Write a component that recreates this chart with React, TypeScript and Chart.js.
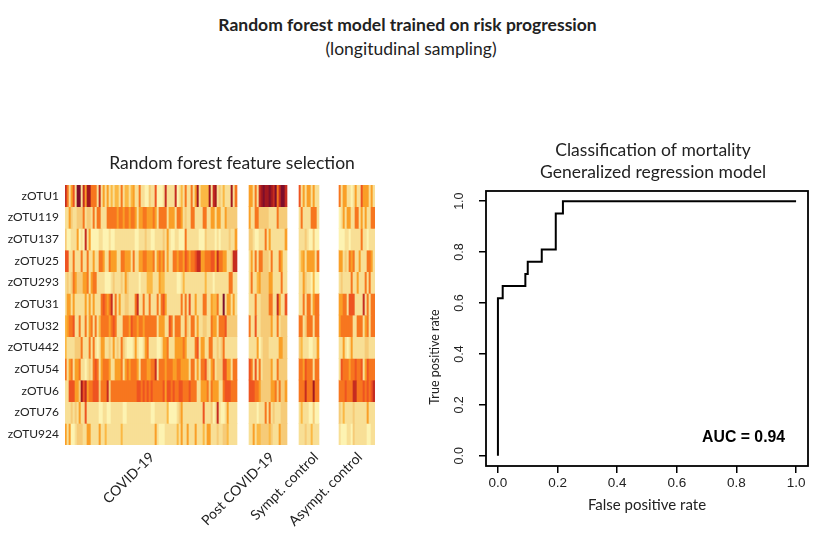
import React, { useEffect, useRef } from "react";
import { Chart, registerables } from "chart.js";

Chart.register(...registerables);

const mainTitle = "Random forest model trained on risk progression";
const subTitle = "(longitudinal sampling)";
const heatTitle = "Random forest feature selection";
const rocTitle = ["Classification of mortality", "Generalized regression model"];
const rocAuc = "AUC = 0.94";

const rowNames = ["zOTU1", "zOTU119", "zOTU137", "zOTU25", "zOTU293", "zOTU31", "zOTU32", "zOTU442", "zOTU54", "zOTU6", "zOTU76", "zOTU924"];
const groupNames = ["COVID-19", "Post COVID-19", "Sympt. control", "Asympt. control"];
const heatPalette = ["#FDF3B2", "#F8DF96", "#F6CB78", "#FBB844", "#FA9F27", "#F7761F", "#EE5421", "#C62C20", "#A3191F", "#7D0E2C"];

const covidLevels = [
  [7,5,1,4,6,1,9,9,1,7, 4,8,8,5,5,5,1,7,1,4, 1,4,1,3,1,3,3,1,5,1, 3,3,1,3,4,1,1,5,1,1, 0,0,2,1,1,6,0,0,0,1, 7,1,1,1,1,7,0,1,3,1, 5,1,1,5,1,4,8,1,3,3, 3,3,8,1,7,8,1,2,1,3, 1,1,1,8,1,5],
  [1,1,4,2,1,1,2,2,2,5, 1,2,2,1,5,1,5,5,1,1, 1,5,5,5,5,5,4,5,5,4, 5,5,4,5,5,4,1,4,4,5, 5,4,4,4,5,4,1,5,5,5, 5,1,4,4,4,1,5,5,4,1, 2,1,1,5,5,1,1,1,1,5, 5,1,1,4,4,1,4,4,1,1, 4,2,2,2,2,2],
  [2,0,0,1,1,1,4,0,1,0, 7,1,4,0,0,0,0,1,1,0, 0,0,1,0,0,1,1,1,1,1, 1,1,1,1,1,0,0,1,1,1, 2,1,1,0,0,1,1,1,1,2, 1,4,1,0,0,1,1,0,0,0, 5,1,1,1,1,1,1,0,0,0, 2,1,1,1,1,0,1,0,1,1, 1,1,2,1,1,4],
  [6,6,1,1,5,1,1,1,5,1, 1,5,1,1,4,1,1,5,5,4, 1,1,5,4,4,4,1,1,5,5, 4,4,4,1,5,1,1,4,4,5, 5,4,4,4,5,1,4,5,4,5, 1,4,1,1,5,5,4,5,5,4, 6,5,4,5,5,6,7,7,4,4, 5,5,5,6,6,4,7,5,5,4, 4,1,1,2,7,7],
  [1,2,1,2,5,4,2,2,2,4, 4,5,1,4,5,5,1,1,1,1, 0,0,0,1,2,1,1,1,2,1, 4,2,1,1,1,1,1,0,1,1, 1,3,3,3,1,1,1,4,3,3, 1,1,1,1,1,1,0,0,1,3, 1,1,1,1,1,1,1,1,1,1, 3,1,1,1,0,1,1,1,1,1, 1,1,5,5,1,1],
  [1,4,4,1,4,1,1,1,1,1, 4,1,4,1,4,1,1,1,5,6, 5,4,5,7,1,5,1,4,1,1, 2,2,1,1,1,5,7,1,1,5, 1,1,5,1,1,1,5,1,5,6, 4,1,1,1,1,1,1,1,5,1, 5,1,6,1,1,4,1,1,1,5, 5,1,1,4,3,3,5,1,1,9, 1,4,4,1,4,1],
  [3,4,5,5,6,1,1,5,1,1, 5,1,4,5,1,5,1,3,5,5, 5,5,4,5,6,5,1,1,1,5, 5,5,4,6,5,5,4,5,5,4, 5,5,5,5,5,5,1,4,4,4, 1,1,6,5,1,5,5,5,1,1, 5,2,1,5,5,1,4,1,1,2, 2,1,1,5,4,4,1,5,5,5, 6,2,2,2,2,2],
  [3,1,1,1,1,2,2,2,5,1, 1,1,5,1,5,1,0,1,4,4, 1,1,2,1,4,1,2,1,5,2, 1,0,0,0,1,4,1,0,0,1, 4,5,1,1,1,1,0,0,1,4, 4,5,1,1,1,4,4,4,4,5, 4,1,1,1,1,5,6,1,4,4, 1,1,5,5,1,1,2,1,2,5, 1,1,1,1,1,1],
  [5,1,4,5,1,4,4,5,1,1, 0,1,2,1,5,6,5,1,4,5, 5,5,4,1,1,4,4,4,5,1, 4,5,4,5,5,5,4,1,5,5, 5,4,4,5,5,7,1,5,5,5, 4,5,5,5,4,4,5,5,4,4, 4,4,1,5,5,1,4,1,5,5, 6,2,1,4,5,1,2,2,2,6, 6,4,4,1,5,5],
  [1,1,6,6,6,4,4,2,8,6, 7,4,5,5,6,6,6,2,5,5, 5,7,2,5,5,5,5,5,5,5, 5,5,5,5,5,5,6,6,5,6, 5,6,5,6,5,5,5,5,5,6, 4,6,6,5,6,5,5,6,6,5, 5,5,6,5,5,5,1,1,4,4, 4,5,2,5,4,4,4,1,1,5, 6,6,6,5,5,5],
  [1,1,1,2,1,2,1,4,1,1, 6,1,1,1,1,1,1,0,0,1, 1,0,0,1,1,1,1,1,1,0, 0,1,1,1,1,1,1,1,1,1, 1,1,1,0,0,1,1,1,1,1, 1,3,0,0,0,0,1,2,4,1, 1,1,1,1,1,1,1,1,1,6, 1,1,1,2,0,1,7,1,0,0, 1,4,1,1,1,1],
  [4,1,4,0,0,1,2,2,2,1, 1,4,4,1,1,1,1,4,1,1, 3,1,1,1,1,1,1,1,3,1, 1,1,1,1,1,1,1,1,1,1, 1,1,1,1,1,4,1,0,0,0, 1,1,1,1,1,1,3,1,4,1, 1,4,1,1,1,4,1,1,1,3, 1,4,4,1,1,1,2,1,1,2, 2,3,1,1,1,1],
];

const postLevels = [
  [4,4,1,5,1,7,8,9,8,8,9,8,7,9,5,7,9,9,7],
  [4,1,1,5,5,2,2,2,2,2,1,1,1,1,5,2,2,2,2],
  [2,2,1,0,0,1,1,1,5,1,4,1,1,1,1,1,1,1,4],
  [1,4,1,5,1,5,5,2,2,2,1,5,1,1,1,5,4,1,1],
  [1,5,1,1,3,4,2,2,2,2,4,4,1,1,1,1,5,1,1],
  [1,1,1,5,1,1,2,2,2,2,5,5,1,1,7,4,1,1,6],
  [5,1,1,6,1,1,2,2,2,2,2,4,1,1,5,1,2,2,2],
  [1,1,1,1,4,0,1,2,2,2,1,1,1,1,1,4,4,2,2],
  [6,5,1,6,1,5,1,2,2,2,2,4,1,1,5,2,2,2,2],
  [6,6,6,5,5,4,2,2,2,2,2,4,4,5,2,5,2,2,4],
  [1,1,1,1,0,1,1,1,5,1,5,1,2,1,1,1,2,2,2],
  [1,1,4,1,3,3,2,2,2,2,3,2,1,1,1,4,2,2,2],
];

const symptLevels = [
  [6,1,4,1,4,4,1,4,1,1],
  [1,5,1,1,1,1,5,5,5,1],
  [1,1,1,2,1,0,0,2,0,0],
  [1,3,4,1,4,4,4,4,1,5],
  [1,1,4,2,1,1,0,3,0,0],
  [1,1,5,1,5,5,1,4,5,5],
  [5,5,1,2,5,5,5,1,5,5],
  [2,3,1,1,1,0,0,1,1,4],
  [5,5,4,6,5,5,5,1,5,5],
  [5,5,5,7,5,5,5,8,5,5],
  [1,3,1,1,1,0,0,2,0,0],
  [1,1,1,2,1,1,3,1,1,1],
];

const asymptLevels = [
  [5,1,4,4,1,1,0,1,4,1,1,6,4,4,4,1,4,1],
  [0,1,4,1,4,4,1,1,5,5,1,4,1,4,1,1,5,5],
  [0,0,0,1,1,0,1,1,1,1,1,5,1,1,0,1,1,1],
  [4,4,1,2,1,5,4,5,1,1,4,1,1,1,5,5,4,1],
  [1,2,1,1,1,1,5,1,1,4,1,1,1,5,1,5,1,1],
  [4,4,5,5,1,6,6,6,1,1,1,1,7,1,5,1,5,5],
  [4,5,5,5,5,5,5,1,1,5,5,5,1,4,5,1,5,5],
  [1,1,4,1,0,1,4,1,1,1,1,1,1,2,2,1,1,1],
  [1,6,5,5,5,4,5,5,6,5,5,6,1,4,6,5,5,5],
  [5,5,5,6,5,5,5,7,7,5,5,5,6,5,6,5,6,7],
  [2,1,3,1,1,1,1,2,1,1,1,1,1,1,4,1,1,1],
  [1,0,0,0,1,1,0,2,1,1,1,1,1,1,0,0,1,1],
];

const groupLevels = [covidLevels, postLevels, symptLevels, asymptLevels];
const groupGaps = [6, 6, 10];
const groupLabelColumn = [43, 103, 125, 147];

const falsePositive = [0, 0, 0.016, 0.016, 0.092, 0.092, 0.1, 0.1, 0.147, 0.147, 0.194, 0.194, 0.218, 0.218, 1];
const truePositive = [0, 0.619, 0.619, 0.667, 0.667, 0.714, 0.714, 0.762, 0.762, 0.81, 0.81, 0.952, 0.952, 1, 1];
const rocTicks = [0, 0.2, 0.4, 0.6, 0.8, 1];

const LATO = "Lato, 'Noto Sans', sans-serif";
const ARIAL = "'Liberation Sans', Arial, sans-serif";
const TEXT = "#222222";

function buildHeatRows() {
  return rowNames.map((_, r) => {
    const levels: (number | null)[] = [];
    groupLevels.forEach((g, i) => {
      levels.push(...g[r]);
      if (i < groupGaps.length) for (let k = 0; k < groupGaps[i]; k++) levels.push(null);
    });
    return levels;
  });
}

// An empty axis on the right keeps the chart area in place while the title centres on the whole canvas.
function spacerAxis(width: number) {
  return {
    position: "right",
    display: true,
    grid: { display: false, drawTicks: false },
    border: { display: false },
    ticks: { display: false },
    afterFit: (s: any) => { s.width = width; },
  };
}

export default function App() {
  const heatRef = useRef<HTMLCanvasElement>(null);
  const rocRef = useRef<HTMLCanvasElement>(null);

  useEffect(() => {
    const rows = buildHeatRows();
    const columnLabels = rows[0].map(() => "");
    groupLabelColumn.forEach((c, i) => { columnLabels[c] = groupNames[i]; });

    const heat = new Chart(heatRef.current!, {
      type: "bar",
      data: {
        labels: columnLabels,
        datasets: rows.map((levels, r) => ({
          label: rowNames[r],
          data: levels.map((v) => (v === null ? null : 1)),
          backgroundColor: levels.map((v) => (v === null ? "rgba(0,0,0,0)" : heatPalette[v])),
          borderWidth: 0,
          barPercentage: 1,
          categoryPercentage: 1,
        })),
      },
      options: {
        responsive: false,
        animation: false,
        devicePixelRatio: 1,
        layout: { padding: 0 },
        plugins: {
          legend: { display: false },
          tooltip: { enabled: false },
          title: {
            display: true,
            text: heatTitle,
            color: TEXT,
            font: { family: LATO, size: 17.5, weight: "normal", lineHeight: 1.2 },
            padding: { top: 23, bottom: 11 },
          },
        },
        scales: {
          x: {
            stacked: true,
            grid: { display: false, drawTicks: false },
            border: { display: false },
            afterFit: (s: any) => { s.height = 96; },
            ticks: { autoSkip: false, minRotation: 45, maxRotation: 45, padding: 4, color: TEXT, font: { family: LATO, size: 14 } },
          },
          y: {
            stacked: true,
            reverse: true,
            min: 0,
            max: rowNames.length,
            grid: { display: false, drawTicks: false },
            border: { display: false },
            afterFit: (s: any) => { s.width = 65; },
            afterBuildTicks: (s: any) => { s.ticks = rowNames.map((_, i) => ({ value: i + 0.5 })); },
            ticks: {
              autoSkip: false,
              padding: 6,
              color: TEXT,
              font: { family: LATO, size: 12 },
              callback: (v: any) => rowNames[Math.floor(Number(v))],
            },
          },
          spacer: spacerAxis(89),
        },
      },
    } as any);

    const rocOverlay = {
      id: "rocOverlay",
      afterDraw(c: any) {
        const { ctx, chartArea: a, scales } = c;
        ctx.save();
        ctx.strokeStyle = "#000";
        ctx.lineWidth = 1.8;
        ctx.strokeRect(a.left, a.top, a.right - a.left, a.bottom - a.top);
        ctx.fillStyle = "#000";
        ctx.font = `bold 15.8px ${ARIAL}`;
        ctx.textAlign = "center";
        ctx.textBaseline = "middle";
        ctx.fillText(rocAuc, scales.x.getPixelForValue(0.824), scales.y.getPixelForValue(0.073));
        ctx.fillStyle = TEXT;
        ctx.font = `12.5px ${LATO}`;
        ctx.translate(15, scales.y.getPixelForValue(0.388));
        ctx.rotate(-Math.PI / 2);
        ctx.fillText("True positive rate", 0, 0);
        ctx.restore();
      },
    };

    const roc = new Chart(rocRef.current!, {
      type: "scatter",
      data: {
        datasets: [{
          label: "ROC",
          data: falsePositive.map((x, i) => ({ x, y: truePositive[i] })),
          showLine: true,
          borderColor: "#000",
          borderWidth: 2,
          pointRadius: 0,
          tension: 0,
        }],
      },
      options: {
        responsive: false,
        animation: false,
        devicePixelRatio: 1,
        layout: { padding: 0 },
        plugins: {
          legend: { display: false },
          tooltip: { enabled: false },
          title: {
            display: true,
            text: rocTitle,
            color: TEXT,
            font: { family: LATO, size: 17.5, weight: "normal", lineHeight: 1.257 },
            padding: { top: 19, bottom: 8 },
          },
        },
        scales: {
          x: {
            type: "linear",
            min: -0.04,
            max: 1.04,
            afterBuildTicks: (s: any) => { s.ticks = rocTicks.map((value) => ({ value })); },
            afterFit: (s: any) => { s.height = 64; },
            grid: { drawOnChartArea: false, color: "#000", lineWidth: 1.5, tickLength: 7 },
            border: { display: false },
            title: { display: true, text: "False positive rate", color: TEXT, font: { family: LATO, size: 15 }, padding: { top: 0, bottom: 16 } },
            ticks: { color: TEXT, padding: 2, font: { family: ARIAL, size: 13.5 }, maxRotation: 0, callback: (v: any) => Number(v).toFixed(1) },
          },
          y: {
            type: "linear",
            min: -0.04,
            max: 1.04,
            afterBuildTicks: (s: any) => { s.ticks = rocTicks.map((value) => ({ value })); },
            afterFit: (s: any) => { s.width = 66; },
            grid: { drawOnChartArea: false, color: "#000", lineWidth: 1.5, tickLength: 7 },
            border: { display: false },
            ticks: { color: TEXT, padding: 11, crossAlign: "center", minRotation: 90, maxRotation: 90, font: { family: ARIAL, size: 12.5 }, callback: (v: any) => Number(v).toFixed(1) },
          },
          spacer: spacerAxis(78),
        },
      },
      plugins: [rocOverlay],
    } as any);

    return () => { heat.destroy(); roc.destroy(); };
  }, []);

  return (
    <div style={{ position: "absolute", left: 0, top: 0, width: 827, height: 541, overflow: "hidden", background: "#fff" }}>
      <div style={{ position: "absolute", left: 0, width: 815, top: 14, textAlign: "center", font: `bold 17.5px/22px ${LATO}`, color: TEXT }}>{mainTitle}</div>
      <div style={{ position: "absolute", left: 0, width: 822, top: 38, textAlign: "center", font: `17.5px/22px ${LATO}`, color: TEXT }}>{subTitle}</div>
      <canvas ref={heatRef} width={464} height={411} style={{ position: "absolute", left: 0, top: 130 }} />
      <canvas ref={rocRef} width={466} height={410} style={{ position: "absolute", left: 420, top: 120 }} />
    </div>
  );
}
